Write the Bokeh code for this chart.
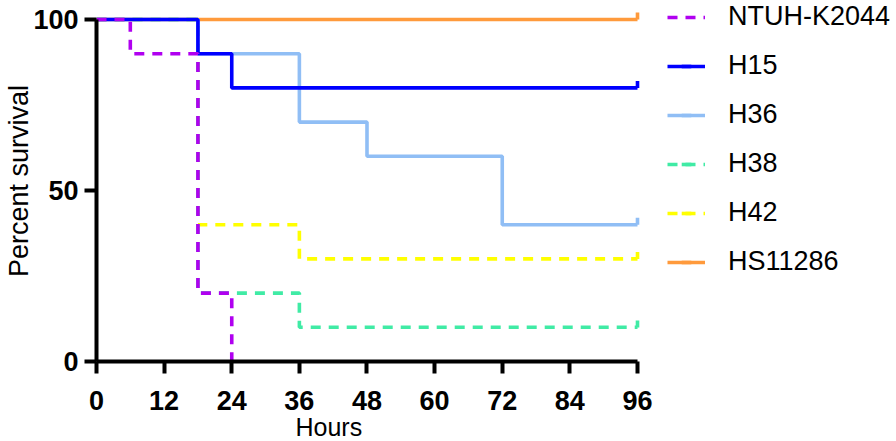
from bokeh.plotting import figure
from bokeh.models import Range1d, Legend, LegendItem, FixedTicker, Title
from bokeh.embed import file_html
from bokeh.resources import INLINE

# ---- data (Kaplan-Meier steps: time in hours, percent survival) ----
names = ["NTUH-K2044", "H15", "H36", "H38", "H42", "HS11286"]
t_ntuh = [0, 6, 18, 24]
s_ntuh = [100, 90, 20, 0]
t_h15 = [0, 18, 24, 96]
s_h15 = [100, 90, 80, 80]
t_h36 = [0, 18, 36, 48, 72, 96]
s_h36 = [100, 90, 70, 60, 40, 40]
t_h38 = [0, 18, 36, 96]
s_h38 = [100, 20, 10, 10]
t_h42 = [0, 18, 36, 96]
s_h42 = [100, 40, 30, 30]
t_hs = [0, 96]
s_hs = [100, 100]
x_ticks = [0, 12, 24, 36, 48, 60, 72, 84, 96]
y_ticks = [0, 50, 100]

colors = {"NTUH-K2044": "#B000F0", "H15": "#0000FF", "H36": "#90BEF5",
          "H38": "#40EBA5", "H42": "#FFFF00", "HS11286": "#FF9A3C"}
dashes = {"NTUH-K2044": "10 8", "H15": "solid", "H36": "solid",
          "H38": "10 8", "H42": "10 8", "HS11286": "solid"}
series = {"NTUH-K2044": (t_ntuh, s_ntuh), "H15": (t_h15, s_h15),
          "H36": (t_h36, s_h36), "H38": (t_h38, s_h38),
          "H42": (t_h42, s_h42), "HS11286": (t_hs, s_hs)}

# frame extends over the legend area; axes are bounded to the data extent
p = figure(width=896, height=441, x_range=Range1d(0, 141.96), y_range=Range1d(0, 105.56),
           output_backend="svg", toolbar_location=None,
           min_border_left=96, min_border_right=0, min_border_top=0, min_border_bottom=80)
p.xgrid.visible = False
p.ygrid.visible = False
p.outline_line_color = None
p.background_fill_color = "white"
p.border_fill_color = "white"

FONT = "Liberation Sans"
for ax, ticks, bnds in ((p.xaxis[0], x_ticks, (0, 96)), (p.yaxis[0], y_ticks, (0, 100))):
    ax.ticker = FixedTicker(ticks=ticks)
    ax.bounds = bnds
    ax.axis_line_width = 4
    ax.axis_line_color = "black"
    ax.major_tick_line_width = 4
    ax.major_tick_out = 12
    ax.major_tick_in = 0
    ax.minor_tick_line_color = None
    ax.major_label_text_font = FONT
    ax.major_label_text_font_style = "bold"
    ax.major_label_text_font_size = "27px"
    ax.major_label_text_color = "black"
    ax.axis_label_text_font = FONT
    ax.axis_label_text_font_style = "normal"
    ax.axis_label_text_color = "black"

p.yaxis.axis_label = "Percent survival"
p.yaxis.axis_label_text_font_size = "27px"
p.xaxis.major_label_standoff = 17
p.yaxis.major_label_standoff = 6
p.yaxis.axis_label_standoff = -4

# x-axis title, placed under the data extent of the axis
p.add_layout(Title(text="Hours", align="left", offset=199, standoff=-3,
                   text_font=FONT, text_font_size="25px", text_font_style="normal",
                   text_color="black"), "below")

draw_order = ["HS11286", "H42", "H38", "H36", "H15", "NTUH-K2044"]
renderers = {}
for n in draw_order:
    t, s = series[n]
    r = p.step(t, s, mode="after", line_color=colors[n], line_width=3.6,
               line_dash=dashes[n])
    if t[-1] == 96:
        c = p.scatter([t[-1]], [s[-1] + 1.0], marker="dash", angle=1.5708, size=7,
                      line_color=colors[n], line_width=3.6)
    else:
        c = p.scatter([], [], marker="dash", angle=1.5708, size=7,
                      line_color=colors[n], line_width=3.6)
    renderers[n] = [r, c]

items = [LegendItem(label=n, renderers=renderers[n]) for n in names]
legend = Legend(items=items, location=(571, 84), orientation="vertical",
                glyph_width=38, glyph_height=24, label_height=24, spacing=18,
                label_standoff=23, padding=0, margin=0,
                label_text_font=FONT, label_text_font_size="27px",
                label_text_color="black",
                border_line_color=None, background_fill_alpha=0)
p.add_layout(legend, "center")

open("out.html", "w").write(file_html(p, INLINE))
